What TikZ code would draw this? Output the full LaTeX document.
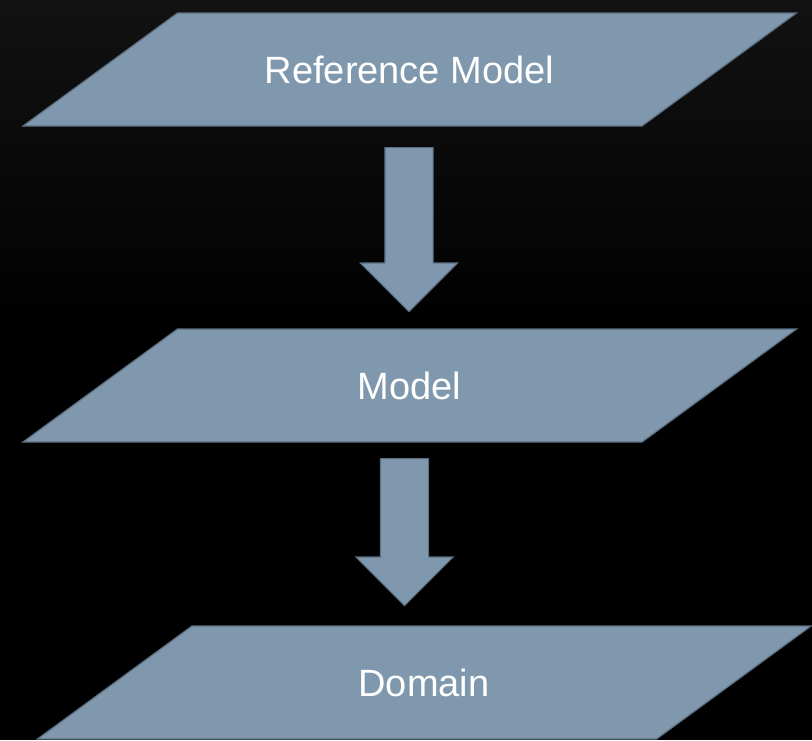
\documentclass[tikz,border=0pt]{standalone}
\usepackage{fontspec}
\setmainfont{Liberation Sans}
\usetikzlibrary{shapes.arrows}

\definecolor{planefill}{RGB}{128,152,174}
\definecolor{planeedge}{RGB}{92,112,130}
\definecolor{topgray}{RGB}{18,18,18}

\tikzset{
  plane/.style={fill=planefill, draw=planeedge, line width=1.2pt, line join=miter},
  planetext/.style={text=white, font=\fontsize{38}{42}\selectfont, inner sep=0pt},
  downarrow/.style={single arrow, shape border rotate=270, anchor=tail,
    single arrow head extend=24.5pt, single arrow tip angle=90, inner sep=23.5pt,
    fill=planefill, draw=planeedge, line width=1.2pt}
}

\begin{document}
\begin{tikzpicture}[x=1pt,y=-1pt]
% background
\fill[black] (0,0) rectangle (812,740);
\shade[top color=topgray, bottom color=black] (0,0) rectangle (812,330);
\useasboundingbox (0,0) rectangle (812,740);

% the three levels
\foreach \name/\x/\y/\txt in {refmodel/409.5/69.5/Reference Model,
                              model/409.5/385.5/Model,
                              domain/424/682.5/Domain}{
  \filldraw[plane] (\x,\y) ++(-386.5,56.5) -- ++(619,0) -- ++(154.5,-113)
    -- ++(-619,0) -- cycle;
  \node[planetext] (\name) at (\x,\y) {\txt};
}

\node[downarrow, minimum height=164pt] (toModel) at (409,147) {};
\node[downarrow, minimum height=147pt] (toDomain) at (404.5,458) {};
\end{tikzpicture}
\end{document}
